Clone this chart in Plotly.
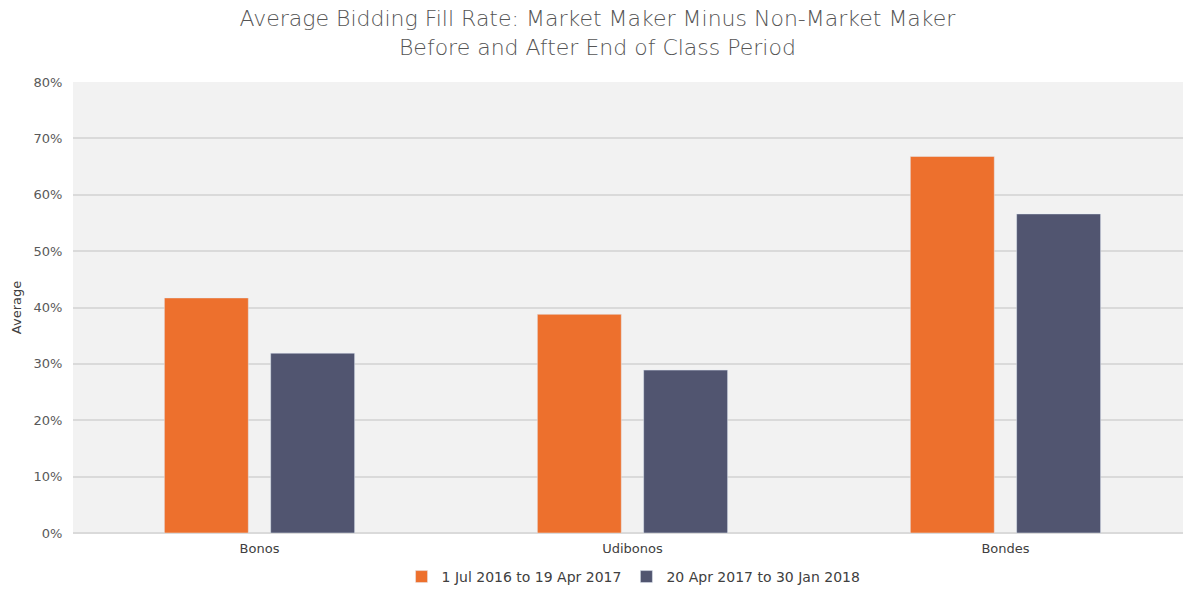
import plotly.graph_objs as go

categories = ['Bonos', 'Udibonos', 'Bondes']
before_end = [0.417, 0.388, 0.668]
after_end = [0.319, 0.289, 0.566]
series_names = ['1 Jul 2016 to 19 Apr 2017', '20 Apr 2017 to 30 Jan 2018']
y_ticks = [0, 0.1, 0.2, 0.3, 0.4, 0.5, 0.6, 0.7, 0.8]

trace1 = go.Bar(x=categories, y=before_end, name=series_names[0], marker_color='#ED702D')
trace2 = go.Bar(x=categories, y=after_end, name=series_names[1], marker_color='#515570')

layout = go.Layout(
    title=dict(text='Average Bidding Fill Rate: Market Maker Minus Non-Market Maker<br>Before and After End of Class Period',
               x=0.505, xanchor='center', yref='container', y=0.956, yanchor='middle',
               font=dict(size=22, color='#555555', family='DejaVu Sans', weight=200)),
    xaxis=dict(showgrid=False, tickfont=dict(size=13, color='#404040'), showline=False,
               ticks='outside', ticklen=3, tickcolor='rgba(0,0,0,0)',
               automargin=False, range=[-0.5, 2.476]),
    yaxis=dict(title=dict(text='Average', font=dict(size=13, color='#404040'), standoff=8),
               range=[0, 0.8], tickvals=y_ticks, tickformat='.0%', automargin=False,
               tickfont=dict(size=13, color='#595959'),
               gridcolor='#DADADA', gridwidth=1.5, zeroline=True, zerolinecolor='#DADADA',
               zerolinewidth=1.5, ticks='outside', ticklen=7, tickcolor='rgba(0,0,0,0)'),
    barmode='group', bargap=0.43, bargroupgap=0.21,
    legend=dict(orientation='h', x=0.505, xanchor='center', y=-0.133, yanchor='bottom',
                itemwidth=30, font=dict(size=14, color='#404040')),
    plot_bgcolor='#F2F2F2', paper_bgcolor='white',
    font_family='DejaVu Sans, sans-serif',
    width=1183, height=593,
    margin=dict(l=73, r=0, t=82, b=60),
)

fig = go.Figure(data=[trace1, trace2], layout=layout)
# drop the default 8px page margin so the figure fills the window exactly
fig.write_html('out.html', config={'displayModeBar': False},
               post_script="document.body.style.margin='0';")
